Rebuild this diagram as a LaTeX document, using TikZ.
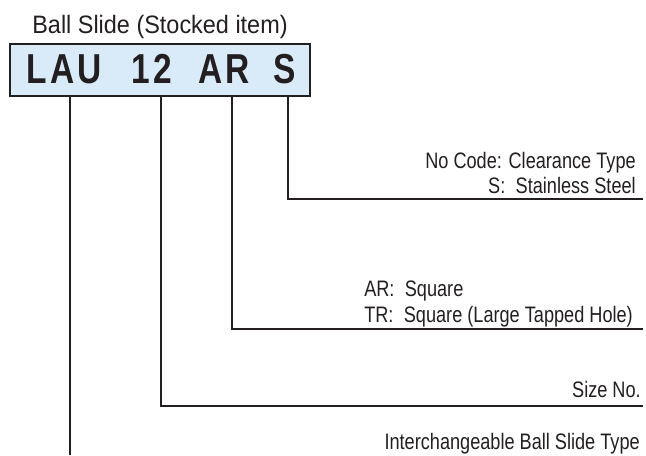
\documentclass[tikz,border=0pt]{standalone}
\usepackage{fontspec}
\setmainfont{Liberation Sans}[FakeStretch=0.81]
\newfontfamily\titlefont{Liberation Sans}[FakeStretch=0.93]
\newfontfamily\codefont{Liberation Sans}[FakeStretch=0.8,LetterSpace=8]
\definecolor{ink}{HTML}{231F20}
\definecolor{codeblue}{HTML}{D9EBF8}
\begin{document}
\begin{tikzpicture}[x=0.75pt,y=-0.75pt,
    leader/.style={draw=ink, line width=2pt},
    codebox/.style={draw=ink, fill=codeblue, line width=2pt, minimum width=225pt, minimum height=39pt, inner sep=0pt},
    codepart/.style={anchor=base, inner sep=0pt, text=ink, font=\codefont\bfseries\fontsize{31.4}{34}\selectfont},
    note/.style={anchor=base east, inner sep=0pt, text=ink, font=\fontsize{16.8}{19}\selectfont}]
    \useasboundingbox (0,0) rectangle (646,455);
    % legs from the code box to the descriptions
    \coordinate (legLAU) at (70,96);
    \coordinate (legSize) at (161,96);
    \coordinate (legShape) at (232,96);
    \coordinate (legS) at (288,96);
    \coordinate (endLAU) at (70,455);
    \coordinate (endSize) at (643,406);
    \coordinate (endShape) at (643,329);
    \coordinate (endS) at (643,199);
    \draw[leader] (legS) |- (endS);
    \draw[leader] (legShape) |- (endShape);
    \draw[leader] (legSize) |- (endSize);
    \draw[leader] (legLAU) -- (endLAU);

    % part number
    \node[anchor=base, inner sep=0pt, text=ink, font=\titlefont\fontsize{18.9}{21}\selectfont] (title) at (160,33) {Ball Slide (Stocked item)};
    \node[codebox] (box) at (160,70) {};
    \node[codepart] (lau) at (64,83) {LAU};
    \node[codepart] (size) at (152,83) {12};
    \node[codepart] (shape) at (224,83) {AR};
    \node[codepart] (mat) at (285,83) {S};

    % descriptions
    \node[note] (noCode) at (636,168) {No Code: Clearance Type};
    \node[note] (sSteel) at (636,193) {S:\hspace{4pt} Stainless Steel};
    \node[note, anchor=base west] (arSq) at (364,296) {AR:\hspace{4pt} Square};
    \node[note, anchor=base west] (trSq) at (364,322) {TR:\hspace{4pt} Square (Large Tapped Hole)};
    \node[note] (sizeNo) at (641,397) {Size No.};
    \node[note] (typeLAU) at (640,449) {Interchangeable Ball Slide Type};
\end{tikzpicture}
\end{document}
